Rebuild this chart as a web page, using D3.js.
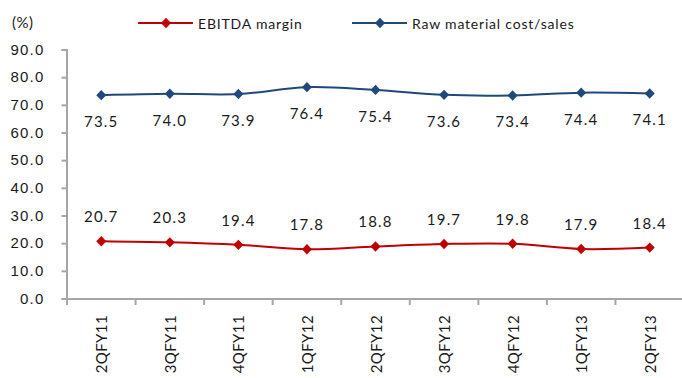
<!DOCTYPE html>
<html>
<head>
<meta charset="utf-8">
<script src="https://cdn.jsdelivr.net/npm/d3@7"></script>
<style>
  html, body { margin: 0; padding: 0; background: #fff; }
  svg { display: block; font-family: "Lato", "Open Sans", sans-serif; }
</style>
</head>
<body>
<svg id="chart" width="682" height="378"></svg>
<script>
// Quarterly categories and the two percentage series
const quarters = ["2QFY11", "3QFY11", "4QFY11", "1QFY12", "2QFY12", "3QFY12", "4QFY12", "1QFY13", "2QFY13"];
const ebitdaMargin = [20.7, 20.3, 19.4, 17.8, 18.8, 19.7, 19.8, 17.9, 18.4];
const rawMaterialCost = [73.5, 74.0, 73.9, 76.4, 75.4, 73.6, 73.4, 74.4, 74.1];
const yTicks = [0, 10, 20, 30, 40, 50, 60, 70, 80, 90];

const series = [
  { name: "EBITDA margin", values: ebitdaMargin, color: "#c00000", labelDy: -19, legendX: 138 },
  { name: "Raw material cost/sales", values: rawMaterialCost, color: "#1f497d", labelDy: 32, legendX: 352 }
];

const svg = d3.select("#chart");
const plotLeft = 67, plotRight = 684, plotTop = 49.5, plotBottom = 298.5;

const x = d3.scaleBand().domain(quarters).range([plotLeft, plotRight]);
const y = d3.scaleLinear().domain([0, 90]).range([plotBottom, plotTop]);
const cx = q => x(q) + x.bandwidth() / 2;
const axisColor = "#a6a6a6";
const textColor = "#1a1a1a";

// Y axis
const yAxis = svg.append("g")
  .attr("transform", `translate(${plotLeft - 0.5},0)`)
  .call(d3.axisLeft(y).tickValues(yTicks).tickFormat(d3.format(".1f")).tickSize(5).tickPadding(17));
yAxis.select(".domain").attr("stroke", axisColor).attr("stroke-width", 2);
yAxis.selectAll(".tick line").attr("stroke", axisColor).attr("stroke-width", 2);
yAxis.selectAll(".tick text")
  .attr("font-size", 15)
  .attr("letter-spacing", 1.2)
  .attr("fill", textColor);

// X axis with ticks on category boundaries
const xAxis = svg.append("g")
  .attr("transform", `translate(0,${plotBottom + 0.5})`);
xAxis.append("line")
  .attr("x1", plotLeft - 1.5).attr("x2", plotRight).attr("y1", 0).attr("y2", 0)
  .attr("stroke", axisColor).attr("stroke-width", 2);
xAxis.selectAll("line.tick")
  .data(quarters)
  .join("line")
  .attr("class", "tick")
  .attr("x1", d => x(d)).attr("x2", d => x(d))
  .attr("y1", 0).attr("y2", 6)
  .attr("stroke", axisColor).attr("stroke-width", 2);
xAxis.selectAll("text")
  .data(quarters)
  .join("text")
  .attr("transform", d => `translate(${cx(d) + 6},16) rotate(-90)`)
  .attr("text-anchor", "end")
  .attr("font-size", 15)
  .attr("letter-spacing", 0.4)
  .attr("fill", textColor)
  .text(d => d);

// Series lines, markers, and value labels
const line = d3.line()
  .x((d, i) => cx(quarters[i]))
  .y(d => y(d))
  .curve(d3.curveCatmullRom.alpha(0.5));

const diamondPath = "M0,-5.2L5,0L0,5.2L-5,0Z";

series.forEach(s => {
  const g = svg.append("g");
  g.append("path")
    .attr("d", line(s.values))
    .attr("fill", "none")
    .attr("stroke", s.color)
    .attr("stroke-width", 2);
  g.selectAll("path.marker")
    .data(s.values)
    .join("path")
    .attr("class", "marker")
    .attr("transform", (d, i) => `translate(${cx(quarters[i])},${y(d)})`)
    .attr("d", diamondPath)
    .attr("fill", s.color);
  g.selectAll("text")
    .data(s.values)
    .join("text")
    .attr("x", (d, i) => cx(quarters[i]))
    .attr("y", d => y(d) + s.labelDy)
    .attr("text-anchor", "middle")
    .attr("font-size", 15)
    .attr("letter-spacing", 1.2)
    .attr("fill", textColor)
    .text(d => d.toFixed(1));
});

// Unit label
svg.append("text")
  .attr("x", 12).attr("y", 28)
  .attr("font-size", 15)
  .attr("letter-spacing", 0.5)
  .attr("fill", textColor)
  .text("(%)");

// Legend
series.forEach(s => {
  const lg = svg.append("g").attr("transform", `translate(${s.legendX},23)`);
  lg.append("line")
    .attr("x1", 0).attr("x2", 55).attr("y1", 0).attr("y2", 0)
    .attr("stroke", s.color).attr("stroke-width", 2);
  lg.append("path")
    .attr("transform", "translate(28,0)")
    .attr("d", diamondPath)
    .attr("fill", s.color);
  lg.append("text")
    .attr("x", 60).attr("y", 6)
    .attr("font-size", 14)
    .attr("letter-spacing", 0.8)
    .attr("fill", textColor)
    .text(s.name);
});
</script>
</body>
</html>
